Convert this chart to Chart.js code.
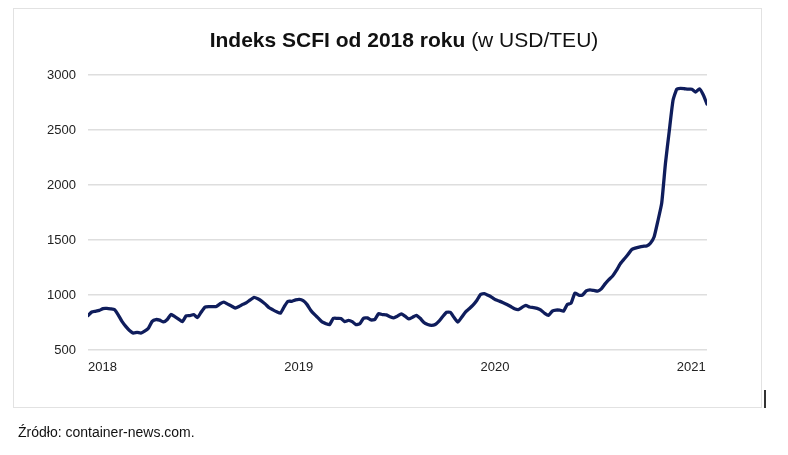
<!DOCTYPE html>
<html>
<head>
<meta charset="utf-8">
<script src="https://cdn.jsdelivr.net/npm/chart.js@4.4.1/dist/chart.umd.min.js"></script>
<style>
  html, body { margin: 0; padding: 0; background: #ffffff; }
  body { width: 788px; height: 455px; position: relative; overflow: hidden; font-family: "Liberation Sans", Arial, Helvetica, sans-serif; }
  #frame { position: absolute; left: 13px; top: 8px; width: 749px; height: 400px; border: 1px solid #e2e2e2; box-sizing: border-box; }
  #mark { position: absolute; left: 764px; top: 390px; width: 2px; height: 18px; background: #333; }
  #title { position: absolute; left: 0; width: 808px; top: 27px; text-align: center; font-size: 21px; color: #111; line-height: 26px; }
  #title b { font-weight: bold; }
  #source { position: absolute; left: 18px; top: 423px; font-size: 14px; color: #111; line-height: 18px; }
  #wrap { position: absolute; left: 0; top: 0; width: 788px; height: 455px; }
</style>
</head>
<body>
<div id="frame"></div>
<div id="mark"></div>
<div id="wrap"><canvas id="c" width="788" height="455"></canvas></div>
<div id="title"><b>Indeks SCFI od 2018 roku</b> (w USD/TEU)</div>
<div id="source">Źródło: container-news.com.</div>
<script>
// Weekly SCFI values (USD/TEU), first week of Jan 2018 to early Mar 2021
const scfi2018 = [813,845,852,860,877,878,874,868,820,760,715,678,654,661,654,671,697,760,777,771,755,777,823,803,781,757,810,813,822,795,845,890,895,895,895,920,935,917,900,882,895,915,930,956,979,966,945,917,884,865,848,836];
const scfi2019 = [895,943,943,955,960,948,915,862,823,790,755,740,731,788,788,787,758,770,758,730,738,789,792,773,778,830,822,819,803,792,808,828,807,782,798,815,788,750,732,724,732,762,805,843,843,795,754,798,845,875,908,950];
const scfi2020 = [1005,1012,997,979,956,944,930,914,895,875,867,888,905,891,885,878,863,833,814,853,863,862,853,915,926,1018,999,1000,1037,1047,1041,1035,1056,1101,1140,1173,1223,1283,1325,1365,1412,1426,1436,1443,1446,1471,1530,1675,1835,2200,2490,2770];
const scfi2021 = [2871,2878,2875,2871,2871,2845,2875,2820,2735];
const yearLabels = ['2018','2019','2020','2021'];
const yearStartWeek = [0, 52, 104, 156];
const yTicks = [500, 1000, 1500, 2000, 2500, 3000];

const values = [].concat(scfi2018, scfi2019, scfi2020, scfi2021);
const points = values.map((v, i) => ({ x: i, y: v }));

new Chart(document.getElementById('c'), {
  type: 'line',
  data: {
    datasets: [{
      data: points,
      borderColor: '#0f1d5c',
      borderWidth: 3.3,
      pointRadius: 0,
      tension: 0.15,
      borderJoinStyle: 'round',
      borderCapStyle: 'round',
      fill: false
    }]
  },
  options: {
    responsive: false,
    animation: false,
    layout: { padding: { left: 0, right: 81, top: 75, bottom: 75 } },
    plugins: { legend: { display: false }, tooltip: { enabled: false }, title: { display: false } },
    scales: {
      x: {
        type: 'linear',
        min: 0,
        max: values.length - 1,
        grid: { display: false, drawTicks: false },
        border: { display: false },
        afterBuildTicks: (s) => { s.ticks = yearStartWeek.map(v => ({ value: v })); },
        afterFit: (s) => { s.height = 30; },
        ticks: {
          autoSkip: false,
          maxRotation: 0,
          align: 'start',
          padding: 10,
          color: '#222',
          font: { family: '"Liberation Sans", Arial, sans-serif', size: 13 },
          callback: (v) => { const k = yearStartWeek.indexOf(v); return k >= 0 ? yearLabels[k] : null; }
        }
      },
      y: {
        min: 500,
        max: 3000,
        afterBuildTicks: (s) => { s.ticks = yTicks.map(v => ({ value: v })); },
        afterFit: (s) => { s.width = 88; },
        grid: { color: '#dedede', lineWidth: 1.5, drawTicks: false },
        border: { display: false },
        ticks: {
          padding: 12,
          color: '#222',
          font: { family: '"Liberation Sans", Arial, sans-serif', size: 13 },
          callback: (v) => String(v)
        }
      }
    }
  }
});
</script>
</body>
</html>
